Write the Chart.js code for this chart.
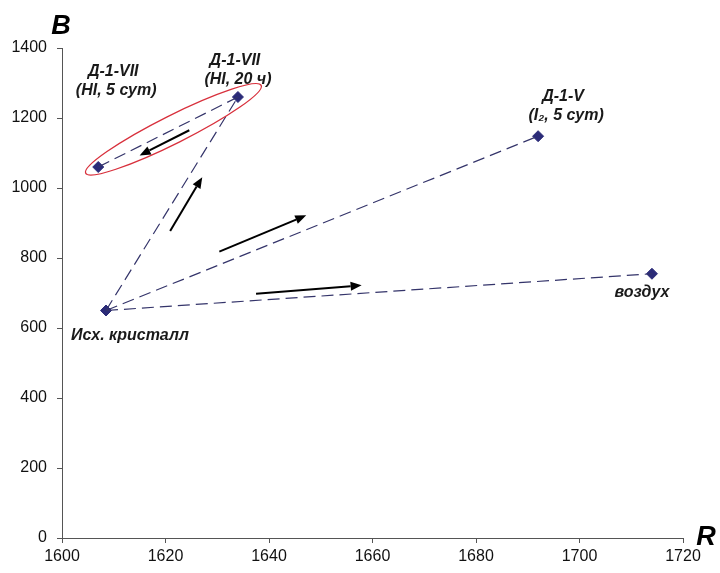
<!DOCTYPE html>
<html>
<head>
<meta charset="utf-8">
<title>B vs R</title>
<script src="https://cdn.jsdelivr.net/npm/chart.js@4.4.1/dist/chart.umd.min.js"></script>
<style>
  body { margin: 0; background: #fff; }
  #chart { display: block; }
</style>
</head>
<body>
<canvas id="chart" width="720" height="573"></canvas>
<script>
// Sample points (R, B)
const pointLabels = [
    ['Исх. кристалл'],
    ['Д-1-VII', '(HI, 20 ч)'],
    ['Д-1-VII', '(HI, 5 сут)'],
    ['Д-1-V', '(I₂, 5 сут)'],
    ['воздух']
];
const rValues = [1608.5, 1634, 1607, 1692, 1714];
const bValues = [650, 1260, 1060, 1148, 755];

// Dashed connections between points (indices into the arrays above)
const pathFrom = [0, 1, 0, 0];
const pathTo = [1, 2, 3, 4];

// Direction arrows, in data units
const arrowFromR = [1624.6, 1620.9, 1630.4, 1637.5];
const arrowFromB = [1165, 877, 818, 698];
const arrowToR = [1615.0, 1627.1, 1647.2, 1657.9];
const arrowToB = [1093, 1031, 922, 722];

// Points circled in red
const circled = [1, 2];

const xTicks = [1600, 1620, 1640, 1660, 1680, 1700, 1720];
const yTicks = [0, 200, 400, 600, 800, 1000, 1200, 1400];

// label offsets from each marker, px (center of first line)
const labelOffsets = [[24, 25], [-3, -36], [15, -95], [25, -40], [-10, 19]];

const FONT = '"Liberation Sans", Arial, sans-serif';
const AXIS_COLOR = '#555';
const LINE_COLOR = '#34346a';
const MARK_COLOR = '#2b2b78';

function buildDatasets() {
    const sets = [];
    for (let i = 0; i < pathFrom.length; i++) {
        const a = pathFrom[i], b = pathTo[i];
        sets.push({
            data: [{ x: rValues[a], y: bValues[a] }, { x: rValues[b], y: bValues[b] }],
            showLine: true,
            borderColor: LINE_COLOR,
            borderWidth: 1.2,
            borderDash: [12, 6],
            pointRadius: 0,
            fill: false
        });
    }
    sets.push({
        data: rValues.map((r, i) => ({ x: r, y: bValues[i] })),
        showLine: false,
        pointStyle: 'rectRot',
        pointRadius: 5.5,
        pointBackgroundColor: MARK_COLOR,
        pointBorderColor: MARK_COLOR
    });
    return sets;
}

// arrows, ellipse, point labels and axis letters
const extrasPlugin = {
    id: 'extras',
    afterDatasetsDraw(chart) {
        const ctx = chart.ctx;
        const xs = chart.scales.x, ys = chart.scales.y;
        const px = i => xs.getPixelForValue(rValues[i]);
        const py = i => ys.getPixelForValue(bValues[i]);

        // red ellipse around the HI pair
        const p1 = circled[0], p2 = circled[1];
        let x1 = px(p2), y1 = py(p2), x2 = px(p1), y2 = py(p1);
        const ang = Math.atan2(y2 - y1, x2 - x1);
        const half = Math.hypot(x2 - x1, y2 - y1) / 2;
        const cx = (x1 + x2) / 2 + Math.cos(ang) * 6;
        const cy = (y1 + y2) / 2 + Math.sin(ang) * 6;
        ctx.save();
        ctx.strokeStyle = '#d8303c';
        ctx.lineWidth = 1.3;
        ctx.beginPath();
        ctx.ellipse(cx, cy, half + 20, 14, ang, 0, Math.PI * 2);
        ctx.stroke();
        ctx.restore();

        // arrows
        ctx.save();
        ctx.strokeStyle = '#000';
        ctx.fillStyle = '#000';
        ctx.lineWidth = 2;
        for (let i = 0; i < arrowFromR.length; i++) {
            const sx = xs.getPixelForValue(arrowFromR[i]);
            const sy = ys.getPixelForValue(arrowFromB[i]);
            const ex = xs.getPixelForValue(arrowToR[i]);
            const ey = ys.getPixelForValue(arrowToB[i]);
            const a = Math.atan2(ey - sy, ex - sx);
            const hl = 11, hw = 4.5;
            const bx = ex - Math.cos(a) * hl, by = ey - Math.sin(a) * hl;
            ctx.beginPath();
            ctx.moveTo(sx, sy);
            ctx.lineTo(bx, by);
            ctx.stroke();
            ctx.beginPath();
            ctx.moveTo(ex, ey);
            ctx.lineTo(bx - Math.sin(a) * hw, by + Math.cos(a) * hw);
            ctx.lineTo(bx + Math.sin(a) * hw, by - Math.cos(a) * hw);
            ctx.closePath();
            ctx.fill();
        }
        ctx.restore();

        // point labels
        ctx.save();
        ctx.fillStyle = '#1a1a1a';
        ctx.font = 'italic bold 16px ' + FONT;
        ctx.textAlign = 'center';
        ctx.textBaseline = 'middle';
        pointLabels.forEach((lines, i) => {
            const lx = px(i) + labelOffsets[i][0];
            const ly = py(i) + labelOffsets[i][1];
            lines.forEach((t, k) => ctx.fillText(t, lx + (k ? 3 : 0), ly + k * 19));
        });

        // axis letters
        const area = chart.chartArea;
        ctx.fillStyle = '#000';
        ctx.font = 'italic bold 27px ' + FONT;
        ctx.fillText('B', area.left - 1, area.top - 21);
        ctx.fillText('R', area.right + 23, area.bottom);
        ctx.restore();
    }
};

function main() {
    new Chart(document.getElementById('chart'), {
        type: 'scatter',
        data: { datasets: buildDatasets() },
        options: {
            responsive: false,
            animation: false,
            layout: { padding: { left: 0, right: 37, top: 48, bottom: 0 } },
            plugins: {
                legend: { display: false },
                tooltip: { enabled: false }
            },
            scales: {
                x: {
                    type: 'linear',
                    min: xTicks[0],
                    max: xTicks[xTicks.length - 1],
                    afterBuildTicks: s => { s.ticks = xTicks.map(v => ({ value: v })); },
                    afterFit: s => { s.height = 35; },
                    grid: { drawOnChartArea: false, tickLength: 5, color: AXIS_COLOR },
                    border: { color: AXIS_COLOR },
                    ticks: {
                        color: '#111', padding: 4, maxRotation: 0,
                        font: { size: 16, family: FONT },
                        callback: v => String(v)
                    }
                },
                y: {
                    type: 'linear',
                    min: yTicks[0],
                    max: yTicks[yTicks.length - 1],
                    afterBuildTicks: s => { s.ticks = yTicks.map(v => ({ value: v })); },
                    afterFit: s => { s.width = 62; },
                    grid: { drawOnChartArea: false, tickLength: 5, color: AXIS_COLOR },
                    border: { color: AXIS_COLOR },
                    ticks: {
                        color: '#111', padding: 10,
                        font: { size: 16, family: FONT },
                        callback: v => String(v)
                    }
                }
            }
        },
        plugins: [extrasPlugin]
    });
}

main();
</script>
</body>
</html>
